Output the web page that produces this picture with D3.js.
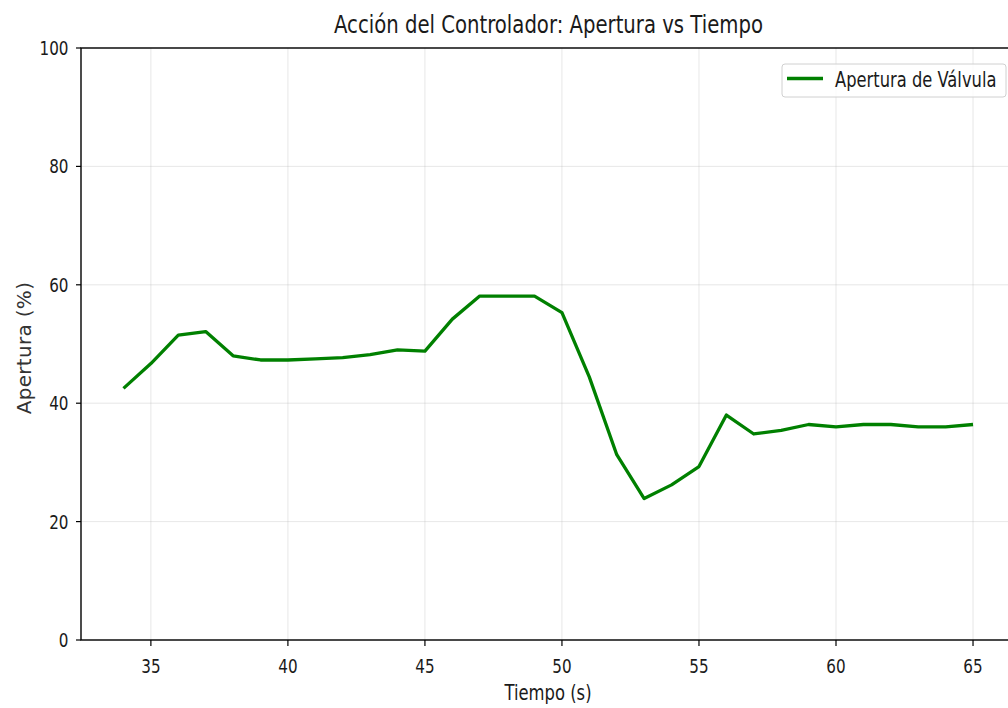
<!DOCTYPE html>
<html>
<head>
<meta charset="utf-8">
<script src="https://cdn.jsdelivr.net/npm/d3@7"></script>
<style>
  html, body { margin: 0; padding: 0; background: #fff; }
  svg text { font-family: "DejaVu Sans", sans-serif; fill: #1a1a1a; }
</style>
</head>
<body>
<svg id="chart" width="1008" height="708"></svg>
<script>
// ---- data ----
const tiempo = [34,35,36,37,38,39,40,41,42,43,44,45,46,47,48,49,50,51,52,53,54,55,56,57,58,59,60,61,62,63,64,65];
const apertura = [42.5,46.7,51.5,52.1,48.0,47.3,47.3,47.5,47.7,48.2,49.0,48.8,54.2,58.1,58.1,58.1,55.3,44.4,31.3,23.9,26.2,29.3,38.0,34.8,35.4,36.4,36.0,36.4,36.4,36.0,36.0,36.4];
const xTicks = [35,40,45,50,55,60,65];
const yTicks = [0,20,40,60,80,100];
const titleText = "Acción del Controlador: Apertura vs Tiempo";
const xLabel = "Tiempo (s)";
const yLabel = "Apertura (%)";
const seriesName = "Apertura de Válvula";

// ---- layout ----
const svg = d3.select("#chart");
const L = 81, R = 1015.5, T = 48, B = 640;
const SQ = 0.8; // horizontal text compression
const green = "#008000";

const x = d3.scaleLinear().domain([32.45, 66.55]).range([L, R]);
const y = d3.scaleLinear().domain([0, 100]).range([B, T]);

function txt(g, xx, yy, s, size, anchor) {
  return g.append("text")
    .attr("transform", `translate(${xx},${yy}) scale(${SQ},1)`)
    .attr("text-anchor", anchor || "middle")
    .style("font-size", size + "px")
    .text(s);
}

// grid
const grid = svg.append("g");
grid.selectAll("line.gx").data(xTicks).enter().append("line")
  .attr("x1", d => x(d)).attr("x2", d => x(d))
  .attr("y1", T).attr("y2", B)
  .attr("stroke", "#b0b0b0").attr("stroke-opacity", 0.3).attr("stroke-width", 1);
grid.selectAll("line.gy").data(yTicks).enter().append("line")
  .attr("x1", L).attr("x2", R)
  .attr("y1", d => y(d)).attr("y2", d => y(d))
  .attr("stroke", "#b0b0b0").attr("stroke-opacity", 0.3).attr("stroke-width", 1);

// line
const line = d3.line().x((d, i) => x(tiempo[i])).y(d => y(d));
svg.append("path")
  .datum(apertura)
  .attr("d", line)
  .attr("fill", "none")
  .attr("stroke", green)
  .attr("stroke-width", 3.3)
  .attr("stroke-linejoin", "round")
  .attr("stroke-linecap", "butt");

// frame
svg.append("rect")
  .attr("x", L).attr("y", T).attr("width", R - L).attr("height", B - T)
  .attr("fill", "none").attr("stroke", "#000").attr("stroke-width", 1.4);

// x axis ticks
const ax = svg.append("g");
xTicks.forEach(t => {
  ax.append("line").attr("x1", x(t)).attr("x2", x(t)).attr("y1", B).attr("y2", B + 6)
    .attr("stroke", "#000").attr("stroke-width", 1.2);
  txt(ax, x(t), 673, String(t), 19, "middle");
});
// y axis ticks
yTicks.forEach(t => {
  ax.append("line").attr("x1", L - 5).attr("x2", L).attr("y1", y(t)).attr("y2", y(t))
    .attr("stroke", "#000").attr("stroke-width", 1.2);
  txt(ax, 68.5, y(t) + 7, String(t), 19, "end");
});

// labels
txt(svg, (330 + 767) / 2, 33, titleText, 24.6, "middle");
txt(svg, 548, 700, xLabel, 20.5, "middle");
svg.append("text")
  .attr("transform", `translate(31,${(278 + 418) / 2}) rotate(-90)`)
  .attr("text-anchor", "middle")
  .attr("dominant-baseline", "auto")
  .style("font-size", "20px")
  .style("letter-spacing", "0.3px")
  .style("fill", "#333")
  .text(yLabel);

// legend
const lg = svg.append("g");
lg.append("rect").attr("x", 782).attr("y", 64).attr("width", 224).attr("height", 33)
  .attr("rx", 3).attr("fill", "#fff").attr("fill-opacity", 0.8)
  .attr("stroke", "#d0d0d0").attr("stroke-width", 1);
lg.append("line").attr("x1", 787).attr("x2", 823).attr("y1", 78.5).attr("y2", 78.5)
  .attr("stroke", green).attr("stroke-width", 3.3);
txt(lg, 835, 87, seriesName, 20.4, "start");
</script>
</body>
</html>
